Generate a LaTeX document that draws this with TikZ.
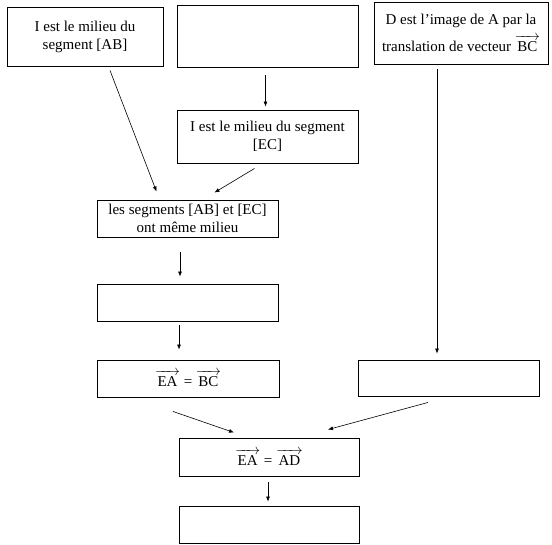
\documentclass[tikz,border=0pt]{standalone}
\usepackage{amsmath}
\usepackage{fontspec}
\setmainfont{Liberation Serif}
\usetikzlibrary{arrows.meta}
\newcommand{\vecteur}[1]{\ensuremath{\overrightarrow{\rule{0pt}{11pt}\text{\,#1\,}}}}

\begin{document}
\begin{tikzpicture}[x=1pt, y=-1pt]
\useasboundingbox (0,0) rectangle (552,544);
\begin{scope}[every node/.style={rectangle, draw, line width=0.9pt, inner sep=0pt, align=center, font=\fontsize{15}{18}\selectfont}]
    \node[minimum width=156pt, minimum height=59pt] (ab) at (85,36.5) {I est le milieu du\\segment [AB]};
    \node[minimum width=181pt, minimum height=62pt] (vide1) at (267.5,36) {};
    \node[minimum width=174pt, minimum height=62pt] (imgD) at (461,33) {D est l’image de A par la\\[7pt]translation de vecteur \vecteur{BC}};
    \node[minimum width=181pt, minimum height=53pt] (ec) at (267.5,136.5) {I est le milieu du segment\\{}[EC]};
    \node[minimum width=181pt, minimum height=37pt] (mil) at (187.5,218.5) {les segments [AB] et [EC]\\ont même milieu};
    \node[minimum width=181pt, minimum height=37pt] (vide2) at (187.5,302.5) {};
    \node[minimum width=182pt, minimum height=37pt] (ea) at (188,378.5) {\vecteur{EA}\ =\ \vecteur{BC}};
    \node[minimum width=181pt, minimum height=36pt] (droite) at (448.5,378) {};
    \node[minimum width=180pt, minimum height=38pt] (ad) at (269,457) {\vecteur{EA}\ =\ \vecteur{AD}};
    \node[minimum width=180pt, minimum height=37pt] (fin) at (269,524.5) {};
\end{scope}
\begin{scope}[every edge/.style={draw=black, line width=0.6pt, -{Latex[length=5pt,width=4pt]}}]
    \path ([xshift=25pt,yshift=-4pt]ab.south) edge ([xshift=-31pt,yshift=8pt]mil.north);
    \path ([xshift=-2pt,yshift=-8pt]vide1.south) edge ([xshift=-2pt,yshift=3pt]ec.north);
    \path ([xshift=-13pt,yshift=-5pt]ec.south) edge ([xshift=27pt,yshift=7pt]mil.north);
    \path ([xshift=-24pt,yshift=-5pt]imgD.south) edge ([xshift=-11.5pt,yshift=6pt]droite.north);
    \path ([xshift=-7.5pt,yshift=-15pt]mil.south) edge ([xshift=-7.5pt,yshift=7pt]vide2.north);
    \path ([xshift=-8.5pt,yshift=-4pt]vide2.south) edge ([xshift=-9pt,yshift=10pt]ea.north);
    \path ([xshift=-15pt,yshift=-14pt]ea.south) edge ([xshift=-35pt,yshift=5pt]ad.north);
    \path ([xshift=-20.5pt,yshift=-6pt]droite.south) edge ([xshift=59pt,yshift=8pt]ad.north);
    \path ([xshift=-1pt,yshift=-6pt]ad.south) edge ([xshift=-1pt,yshift=4pt]fin.north);
\end{scope}
\end{tikzpicture}
\end{document}
